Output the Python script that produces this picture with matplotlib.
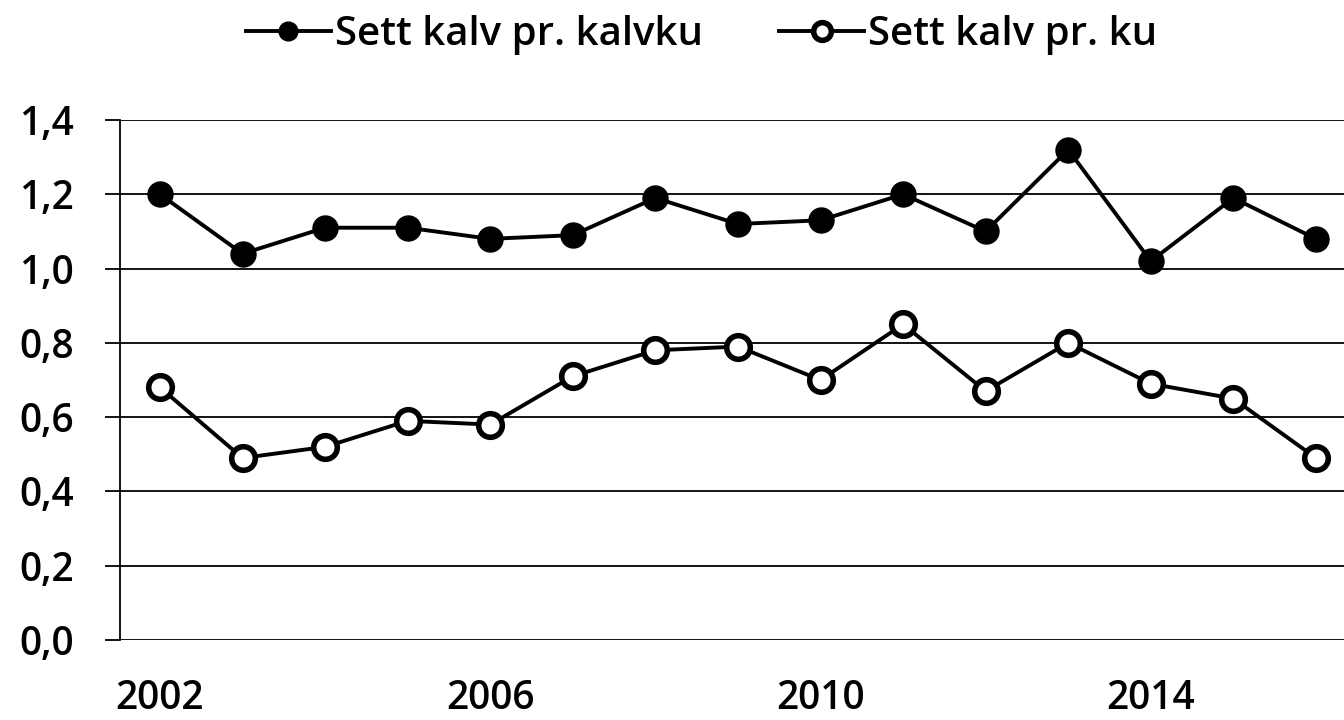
import matplotlib.pyplot as plt
import matplotlib as mpl

mpl.use("Agg")

plt.rcParams["font.family"] = ["Open Sans", "DejaVu Sans"]
plt.rcParams["font.weight"] = 600

years = [2002, 2003, 2004, 2005, 2006, 2007, 2008, 2009,
         2010, 2011, 2012, 2013, 2014, 2015, 2016]
kalv_pr_kalvku = [1.20, 1.04, 1.11, 1.11, 1.08, 1.09, 1.19, 1.12,
                  1.13, 1.20, 1.10, 1.32, 1.02, 1.19, 1.08]
kalv_pr_ku = [0.68, 0.49, 0.52, 0.59, 0.58, 0.71, 0.78, 0.79,
              0.70, 0.85, 0.67, 0.80, 0.69, 0.65, 0.49]
label_kalvku = "Sett kalv pr. kalvku"
label_ku = "Sett kalv pr. ku"
y_ticks = [0.0, 0.2, 0.4, 0.6, 0.8, 1.0, 1.2, 1.4]
x_ticks = [2002, 2006, 2010, 2014]

fig = plt.figure(figsize=(13.44, 7.2), dpi=100)
fig.patch.set_facecolor("white")
ax = fig.add_axes([120 / 1344, 80 / 720, 1 - 120 / 1344, 520 / 720])

ax.plot(years, kalv_pr_kalvku, color="black", lw=2.8, marker="o",
        ms=18, mfc="black", mec="black", label=label_kalvku, zorder=3)
ax.plot(years, kalv_pr_ku, color="black", lw=2.8, marker="o",
        ms=17, mfc="white", mec="black", mew=4, label=label_ku, zorder=3)

ax.set_ylim(0, 1.4)
ax.set_xlim(2001.516, 2016.34)
ax.set_yticks(y_ticks)
ax.set_yticklabels([f"{v:.1f}".replace(".", ",") for v in y_ticks])
ax.set_xticks(x_ticks)
ax.set_xticklabels([str(x) for x in x_ticks])

ax.grid(axis="y", color="black", lw=1.3)
ax.set_axisbelow(True)
for s in ["top", "right", "bottom"]:
    ax.spines[s].set_visible(False)
ax.spines["left"].set_linewidth(1.3)

ax.tick_params(axis="y", length=11, width=1.3, pad=22, labelsize=28)
ax.tick_params(axis="x", length=0, pad=28, labelsize=28)

fig.legend(loc="center", bbox_to_anchor=(0.522, 0.951), ncol=2,
           frameon=False, fontsize=29, handlelength=2.1,
           columnspacing=1.9, handletextpad=0.1, markerscale=0.75)

plt.savefig("out.png", dpi=100)
